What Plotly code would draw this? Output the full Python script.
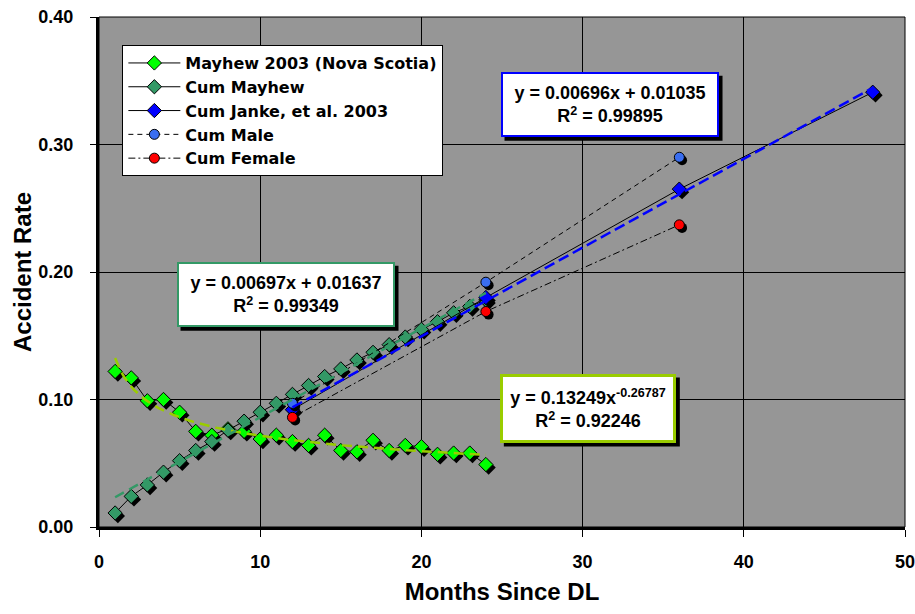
import numpy as np
import plotly.graph_objects as go

# ---------------- data ----------------
months = list(range(1, 25))
mayhew = [0.122, 0.117, 0.099, 0.100, 0.090, 0.075, 0.072, 0.077, 0.075, 0.069,
          0.072, 0.067, 0.064, 0.072, 0.060, 0.059, 0.068, 0.060, 0.064, 0.063,
          0.057, 0.058, 0.058, 0.049]
cum_mayhew = [0.011, 0.024, 0.033, 0.043, 0.052, 0.060, 0.067, 0.076, 0.083, 0.090,
              0.097, 0.104, 0.111, 0.118, 0.124, 0.131, 0.137, 0.143, 0.149, 0.155,
              0.161, 0.168, 0.173, 0.178]
janke_months = [12, 24, 36, 48]
cum_janke = [0.092, 0.180, 0.265, 0.341]
sex_months = [12, 24, 36]
cum_male = [0.097, 0.192, 0.290]
cum_female = [0.086, 0.169, 0.237]

# trendline coefficients as printed on the chart
cum_fit = (0.00697, 0.01637)
janke_fit = (0.00696, 0.01035)
power_fit = (0.13249, -0.26787)

x_ticks = [0, 10, 20, 30, 40, 50]
y_ticks = [0.0, 0.1, 0.2, 0.3, 0.4]

FONT = "Liberation Sans, Arial, sans-serif"
LEG_FONT = "DejaVu Sans, Liberation Sans, sans-serif"
LIGHT_GREEN = "#00FF00"
SEA_GREEN = "#339966"
BLUE = "#0000FF"
MALE_BLUE = "#3A6EF0"
RED = "#FF0000"
TREND_YG = "#99CC00"

SDX, SDY = 0.17, -0.0024  # marker shadow offset (data units)

fig = go.Figure()


def shadow(xs, ys, symbol, size):
    fig.add_trace(go.Scatter(
        x=[v + SDX for v in xs], y=[v + SDY for v in ys], mode="markers",
        marker=dict(symbol=symbol, size=size, color="black"),
        showlegend=False, hoverinfo="skip"))


# Mayhew monthly
shadow(months, mayhew, "diamond", 11)
fig.add_trace(go.Scatter(
    x=months, y=mayhew, mode="lines+markers", name="Mayhew 2003 (Nova Scotia)",
    line=dict(color="black", width=1),
    marker=dict(symbol="diamond", size=11, color=LIGHT_GREEN,
                line=dict(color="black", width=1))))

# Cum Mayhew
shadow(months, cum_mayhew, "diamond", 11)
fig.add_trace(go.Scatter(
    x=months, y=cum_mayhew, mode="lines+markers", name="Cum Mayhew",
    line=dict(color="black", width=1),
    marker=dict(symbol="diamond", size=11, color=SEA_GREEN,
                line=dict(color="black", width=1))))

# Cum Janke
shadow(janke_months, cum_janke, "diamond", 11)
fig.add_trace(go.Scatter(
    x=janke_months, y=cum_janke, mode="lines+markers", name="Cum Janke, et al. 2003",
    line=dict(color="black", width=1),
    marker=dict(symbol="diamond", size=11, color=BLUE,
                line=dict(color="black", width=1))))

# Cum Male
shadow(sex_months, cum_male, "circle", 10)
fig.add_trace(go.Scatter(
    x=sex_months, y=cum_male, mode="lines+markers", name="Cum Male",
    line=dict(color="black", width=1, dash="5px,4px"),
    marker=dict(symbol="circle", size=10, color=MALE_BLUE,
                line=dict(color="black", width=1))))

# Cum Female
shadow(sex_months, cum_female, "circle", 10)
fig.add_trace(go.Scatter(
    x=sex_months, y=cum_female, mode="lines+markers", name="Cum Female",
    line=dict(color="black", width=1, dash="7px,3px,2px,3px"),
    marker=dict(symbol="circle", size=10, color=RED,
                line=dict(color="black", width=1))))

# ---------------- trendlines ----------------
xp = np.linspace(months[0], months[-1], 120)
fig.add_trace(go.Scatter(
    x=xp, y=power_fit[0] * xp ** power_fit[1], mode="lines",
    line=dict(color=TREND_YG, width=2.5, dash="10px,6px"),
    showlegend=False, hoverinfo="skip"))
xc = np.array([months[0], months[-1]], dtype=float)
fig.add_trace(go.Scatter(
    x=xc, y=cum_fit[0] * xc + cum_fit[1], mode="lines",
    line=dict(color=SEA_GREEN, width=2.5, dash="10px,6px"),
    showlegend=False, hoverinfo="skip"))
xj = np.array([janke_months[0], janke_months[-1]], dtype=float)
fig.add_trace(go.Scatter(
    x=xj, y=janke_fit[0] * xj + janke_fit[1], mode="lines",
    line=dict(color=BLUE, width=2.5, dash="11px,5px"),
    showlegend=False, hoverinfo="skip"))

# ---------------- equation boxes ----------------
boxes = [
    dict(text="y = 0.00696x + 0.01035<br>R<sup>2</sup> = 0.99895", x=0.6334, y=0.829,
         color=BLUE, bw=2, w=212, h=59),
    dict(text="y = 0.00697x + 0.01637<br>R<sup>2</sup> = 0.99349", x=0.2314, y=0.4562,
         color=SEA_GREEN, bw=2, w=212, h=59),
    dict(text="y = 0.13249x<sup>-0.26787</sup><br>R<sup>2</sup> = 0.92246", x=0.6065, y=0.2332,
         color=TREND_YG, bw=3, w=168, h=61),
]
annotations = []
shapes = []
PAD = 1
for b in boxes:
    W = b["w"] + 2 * (PAD + b["bw"])
    H = b["h"] + 2 * (PAD + b["bw"])
    shapes.append(dict(
        type="rect", xref="paper", yref="paper",
        xsizemode="pixel", ysizemode="pixel", xanchor=b["x"], yanchor=b["y"],
        x0=-W / 2 + 4, x1=W / 2 + 4, y0=-H / 2 - 4, y1=H / 2 - 4,
        fillcolor="black", line=dict(width=0), layer="above"))
    annotations.append(dict(
        xref="paper", yref="paper", x=b["x"], y=b["y"], xanchor="center", yanchor="middle",
        text=b["text"], showarrow=False, align="center",
        width=b["w"], height=b["h"],
        font=dict(family=FONT, size=18, color="black", weight="bold"),
        bgcolor="white", bordercolor=b["color"],
        borderwidth=b["bw"], borderpad=PAD))

shapes.append(dict(type="rect", xref="paper", yref="paper", x0=0, y0=0, x1=1, y1=1,
                   line=dict(color="black", width=1), layer="above"))

fig.update_layout(
    width=915, height=614,
    margin=dict(l=99, r=10, t=17, b=87, autoexpand=False),
    paper_bgcolor="white",
    plot_bgcolor="#969696",
    font=dict(family=FONT, size=18, color="black", weight="bold"),
    showlegend=True,
    legend=dict(x=0.029, y=0.945, xanchor="left", yanchor="top",
                bgcolor="white", bordercolor="black", borderwidth=1,
                font=dict(family=LEG_FONT, size=16, color="black", weight="bold"),
                tracegroupgap=0, itemwidth=52),
    annotations=annotations,
    shapes=shapes,
)
fig.update_xaxes(
    range=[0, 50], tickvals=x_ticks, ticktext=[str(v) for v in x_ticks],
    showgrid=True, gridcolor="black", gridwidth=1, zeroline=False,
    showline=True, linecolor="black", linewidth=3,
    ticks="outside", ticklen=7, tickwidth=1, tickcolor="black",
    tickfont=dict(family=FONT, size=18, weight="bold"), ticklabelstandoff=9,
    ticklabeloverflow="allow", automargin=False,
    title=dict(text="Months Since DL", font=dict(family=FONT, size=24, weight="bold"), standoff=13),
)
fig.update_yaxes(
    range=[0, 0.4], tickvals=y_ticks, tickformat=".2f",
    showgrid=True, gridcolor="black", gridwidth=1, zeroline=False,
    showline=True, linecolor="black", linewidth=3,
    ticks="outside", ticklen=6, tickwidth=1, tickcolor="black",
    tickfont=dict(family=FONT, size=18, weight="bold"), ticklabelstandoff=13,
    ticklabeloverflow="allow", automargin=False,
    title=dict(text="Accident Rate", font=dict(family=FONT, size=24, weight="bold"), standoff=0),
)

fig.write_html("out.html")
